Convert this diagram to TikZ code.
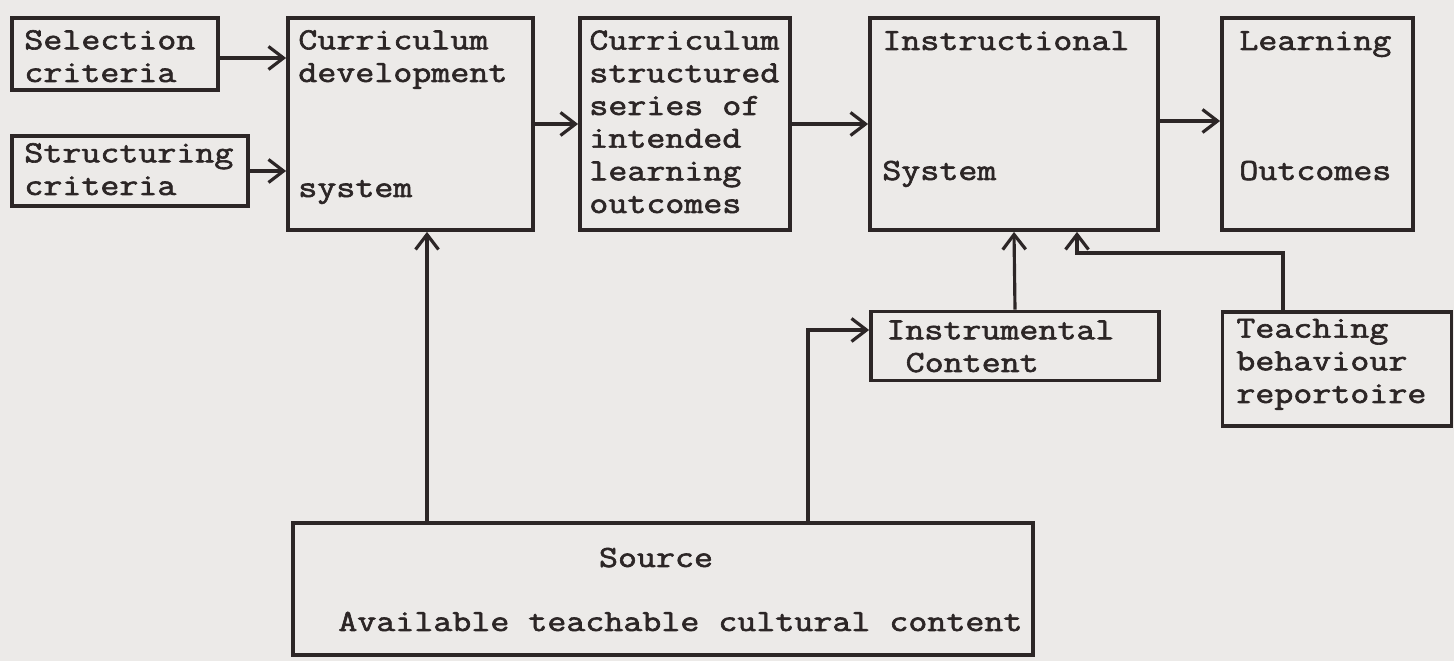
\documentclass[tikz,border=0pt]{standalone}
\usepackage{fontspec}
\newfontfamily\typer[FakeStretch=1.2, FakeBold=2]{Latin Modern Mono}
\usetikzlibrary{arrows.meta}
\definecolor{paper}{RGB}{236,234,232}
\definecolor{ink}{RGB}{44,38,38}

\begin{document}
\begin{tikzpicture}[x=0.02cm, y=-0.02cm]
\tikzstyle{box} = [draw=ink, line width=2.2pt, rectangle, inner sep=0pt]
\tikzstyle{label} = [anchor=base west, inner sep=0pt, align=left, text=ink,
  font=\typer\fontsize{17.5}{18.6}\selectfont]
\tikzstyle{edge} = [draw=ink, line width=1.8pt, -{Straight Barb[length=0.3cm, width=0.46cm]}]

\fill[paper] (0,0) rectangle (1454,661);
\useasboundingbox (0,0) rectangle (1454,661);

% boxes
\node[box, minimum width=4.12cm, minimum height=1.44cm] (sel) at (115,54) {};
\node[box, minimum width=4.72cm, minimum height=1.40cm] (struc) at (130,171) {};
\node[box, minimum width=4.90cm, minimum height=4.24cm] (cdev) at (410.5,124) {};
\node[box, minimum width=4.20cm, minimum height=4.24cm] (cstr) at (685,124) {};
\node[box, minimum width=5.76cm, minimum height=4.24cm] (instr) at (1014,124) {};
\node[box, minimum width=3.82cm, minimum height=4.24cm] (learn) at (1317.5,124) {};
\node[box, minimum width=5.76cm, minimum height=1.38cm] (icont) at (1015,346) {};
\node[box, minimum width=4.58cm, minimum height=2.28cm] (teach) at (1337,369) {};
\node[box, minimum width=14.80cm, minimum height=2.64cm] (source) at (663,589) {};

% texts (multi-line nodes sit on the baseline of their last line)
\node[label] (sel-t) at (24,82) {Selection\\criteria};
\node[label] (struc-t) at (24,195) {Structuring\\criteria};
\node[label] (cdev-t) at (298,82) {Curriculum\\development};
\node[label] (cdev-b) at (298,197) {system};
\node[label] (cstr-t) at (589,213) {Curriculum\\structured\\series of\\intended\\learning\\outcomes};
\node[label] (instr-t) at (882,50) {Instructional};
\node[label] (instr-b) at (882,180) {System};
\node[label] (learn-t) at (1239,50) {Learning};
\node[label] (learn-b) at (1239,180) {Outcomes};
\node[label] (icont-t) at (886,372) {Instrumental\\\hspace*{11pt}Content};
\node[label] (teach-t) at (1236,403) {Teaching\\behaviour\\reportoire};
\node[label, anchor=base] (source-t) at (656,567) {Source};
\node[label] (source-b) at (338,631) {Available teachable cultural content};

% connectors
\coordinate (up1) at (427,0);
\coordinate (bend) at (808,330);
\coordinate (tk) at (1283,253);
\coordinate (tb) at (1077,253);

\draw[edge] ([yshift=-0.08cm]sel.east) -- ([yshift=-0.08cm]sel.east -| cdev.west);
\draw[edge] (struc.east) -- (struc.east -| cdev.west);
\draw[edge] (cdev.east) -- (cstr.west);
\draw[edge] (cstr.east) -- (instr.west);
\draw[edge] ([yshift=0.06cm]instr.east) -- ([yshift=0.06cm]learn.west);
\draw[edge] (source.north -| up1) -- (cdev.south -| up1);
\draw[edge] (source.north -| bend) -- (bend) -- (bend -| icont.west);
\draw[edge] (icont.north) -- (instr.south);
\draw[edge] (teach.north -| tk) -- (tk) -- (tb) -- (instr.south -| tb);
\end{tikzpicture}
\end{document}
